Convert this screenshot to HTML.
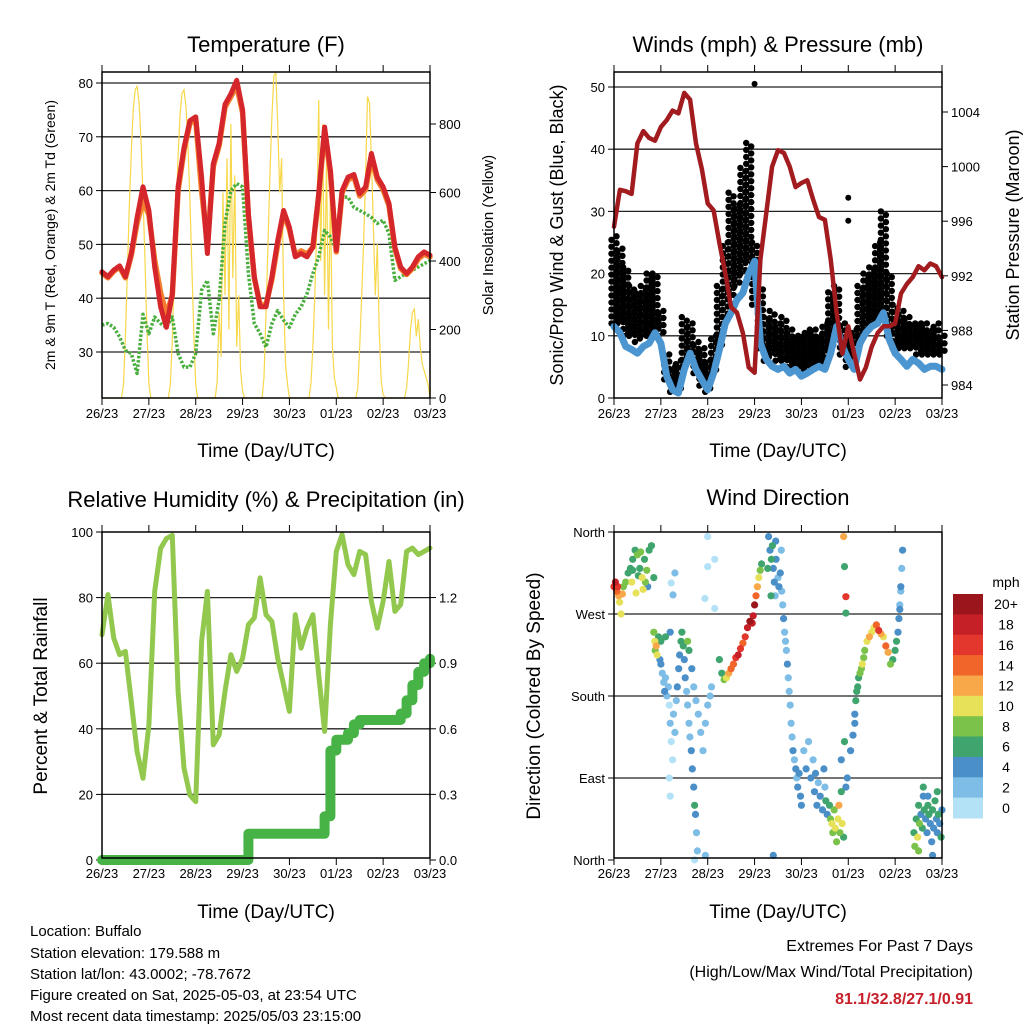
<!DOCTYPE html>
<html><head><meta charset="utf-8"><style>
html,body{margin:0;padding:0;background:#fff;}
svg{display:block;font-family:"Liberation Sans",Arial,sans-serif;}
</style></head><body>
<svg id="chart" width="1024" height="1024" viewBox="0 0 1024 1024">
<rect x="0" y="0" width="1024" height="1024" fill="#fff"/>
<text x="266" y="52" font-size="22" text-anchor="middle">Temperature (F)</text>
<text x="778" y="52" font-size="22" text-anchor="middle">Winds (mph) &amp; Pressure (mb)</text>
<text x="266" y="507" font-size="22" text-anchor="middle">Relative Humidity (%) &amp; Precipitation (in)</text>
<text x="778" y="505" font-size="22" text-anchor="middle">Wind Direction</text>
<text x="266" y="457" font-size="19" text-anchor="middle">Time (Day/UTC)</text>
<text x="778" y="457" font-size="19" text-anchor="middle">Time (Day/UTC)</text>
<text x="266" y="918" font-size="19" text-anchor="middle">Time (Day/UTC)</text>
<text x="778" y="918" font-size="19" text-anchor="middle">Time (Day/UTC)</text>
<text transform="translate(55,235) rotate(-90)" font-size="14" text-anchor="middle">2m &amp; 9m T (Red, Orange) &amp; 2m Td (Green)</text>
<text transform="translate(493,235) rotate(-90)" font-size="15" text-anchor="middle">Solar Insolation (Yellow)</text>
<text transform="translate(563,235) rotate(-90)" font-size="18" text-anchor="middle">Sonic/Prop Wind &amp; Gust (Blue, Black)</text>
<text transform="translate(1019,235) rotate(-90)" font-size="18" text-anchor="middle">Station Pressure (Maroon)</text>
<text transform="translate(47,696) rotate(-90)" font-size="19" text-anchor="middle">Percent &amp; Total Rainfall</text>
<text transform="translate(540,696) rotate(-90)" font-size="19" text-anchor="middle">Direction (Colored By Speed)</text>
<g font-size="15">
<text x="30" y="936">Location: Buffalo</text>
<text x="30" y="958">Station elevation: 179.588 m</text>
<text x="30" y="979">Station lat/lon: 43.0002; -78.7672</text>
<text x="30" y="1000">Figure created on Sat, 2025-05-03, at 23:54 UTC</text>
<text x="30" y="1021">Most recent data timestamp: 2025/05/03 23:15:00</text>
</g>
<text x="973" y="951" font-size="16" text-anchor="end">Extremes For Past 7 Days</text>
<text x="973" y="977" font-size="16" text-anchor="end">(High/Low/Max Wind/Total Precipitation)</text>
<text x="973" y="1004" font-size="16" font-weight="bold" fill="#c8202a" text-anchor="end">81.1/32.8/27.1/0.91</text>
<text x="1006" y="587" font-size="14" text-anchor="middle">mph</text>
</svg>
<script>
// ---- time axis ----
const dayLabels=["26/23","27/23","28/23","29/23","30/23","01/23","02/23","03/23"];
// ---- temperature panel (3-hourly) ----
const tempRed=[44.9,44,45.2,46,44,48.3,55,60.7,56.3,45.8,38.4,34.6,40.8,60.7,68,73,73.7,62.5,48.3,65,68.8,76,78,80.5,75,55.7,44,38.4,38.4,44,50.7,56.3,53.2,47.7,48.3,47.7,49.5,59.4,71.8,63.8,48.9,60,62.5,63,59.4,60.7,66.9,62.5,60.7,57.6,49.5,45.8,44.6,45.8,47.7,48.6,48];
const tempOrange=[44.7,43.8,45,45.8,43.8,48,54,58,55.5,47,41,37,40.5,60,67.5,72.5,73.2,60,50,64.5,68.3,75.5,77.5,79.5,74.5,55.2,43.8,38.8,38.8,43.5,50,55.8,52.8,48,48.8,48.2,49.5,59,71,63.3,48.6,59.6,62,62.6,59,60.2,66.2,62,60.2,57.2,49.2,45.5,44.4,45.5,47.3,48.2,47.7];
const dewGreen=[35,35.3,34.6,32.8,30.3,29.7,26,37,33.4,36.5,35.3,34.6,36.5,29.7,27.2,27.2,29.7,41.5,43.3,33.4,39.6,53.9,60,61.3,60.7,44.6,35.3,33.4,30.9,35.3,37.7,35.9,34.6,37,38.4,40.8,44.6,47.7,52.6,51.4,48.9,58.8,58.8,56.9,56.3,55.7,55,53.9,54.5,52,43.3,44,44.6,45.2,45.8,46.4,47];
const tempTicks=[30,40,50,60,70,80];
const solarTicks=[0,200,400,600,800];
const solarD0=[0,0,0,0,0,0,0,0,0,0,0,40,180,370,560,720,840,900,910,860,750,590,400,200];
const solarD1=[40,0,0,0,0,0,0,0,0,0,0,40,170,360,550,710,830,890,900,850,740,580,390,190];
const solarD2=[40,0,0,0,0,0,0,0,0,0,0,50,250,120,600,300,700,200,800,350,650,150,300,80];
const solarD3=[20,0,0,0,0,0,0,0,0,0,0,60,250,450,650,820,940,950,800,600,700,300,100,40];
const solarD4=[0,0,0,0,0,0,0,0,0,0,0,40,150,300,500,870,400,800,300,700,200,600,150,60];
const solarD5=[30,0,0,0,0,0,0,0,0,0,0,30,150,300,450,650,880,860,700,500,300,450,200,50];
const solarD6=[10,0,0,0,0,0,0,0,0,0,0,0,30,100,200,250,260,180,230,150,100,80,60,40];
// ---- winds panel (3-hourly) ----
const windSpeed=[11.5,10.5,8.3,7.8,7.2,8.3,8.8,10.5,8.8,3.5,1.3,0.8,4.6,7.2,4.6,2.9,1.3,4,7.8,12,13.7,15.8,16.9,20,22,8.8,6.2,5.1,4.6,5.1,4,4.6,3.5,4,4.6,5.1,4.6,7.2,11.5,8.3,6.2,4.6,8.8,10.5,11.5,12,13.7,9.4,7.2,6.2,5.1,6.2,5.6,4.6,5.1,5.1,4.6];
const gustHi=[26,24,21,18,17,18,20,20,14,7,5,6,13,12,9,8,6,10,18,25,33,31,37,41,25,18,13,14,12,13,11,10,10,11,11,10,12,17,18,12,10,11,18,20,21,25,30,20,15,14,13,12,12,12,11,12,10];
const gustLo=[12,12,10,10,9,10,10,11,10,3,1,1,5,7,4,2,1,4,8,13,16,18,20,22,15,8,6,7,6,6,5,5,4,5,5,5,6,8,10,7,5,6,9,11,12,13,14,10,8,8,8,8,7,7,7,7,7];
const gustOutDay=[3.0,5.0,5.0];
const gustOutVal=[50.5,32.2,28.5];
const pressure=[995.6,998.3,998.2,998,1001.7,1002.6,1002.1,1001.9,1002.9,1003.4,1004.1,1003.9,1005.4,1004.9,1001.7,999.8,997.3,996.8,994.4,992.2,989.7,989.3,987.8,985.3,984.9,993.2,996.6,1000,1001.2,1001,1000,998.5,998.8,999,997.6,996.3,996.1,993.2,989.3,986.3,988.3,986.3,984.4,985.3,986.8,987.8,988.3,988.3,988.5,990.7,991.4,991.9,992.7,992.4,992.9,992.7,991.9];
const windTicks=[0,10,20,30,40,50];
const pressTicks=[984,988,992,996,1000,1004];
// ---- humidity panel (3-hourly) ----
const relHum=[68.7,80.9,67.7,62.6,63.6,48.3,33,24.9,41.2,81.9,95,98,99,51.4,28,19.8,17.8,66.6,81.9,35.1,38.1,51.4,62.6,57.5,61.5,71.7,73.8,86,74.8,72.7,61.5,53.4,45.3,74.8,64.6,70.7,74.8,56.5,39.2,71.7,94.1,99.2,90,87,94.1,93.1,78.8,70.7,78.8,91,75.8,77.9,94.1,95.1,93.1,94.1,95.1];
const precip=[0,0,0,0,0,0,0,0,0,0,0,0,0,0,0,0,0,0,0,0,0,0,0,0,0,0.12,0.12,0.12,0.12,0.12,0.12,0.12,0.12,0.12,0.12,0.12,0.12,0.12,0.2,0.5,0.55,0.55,0.58,0.62,0.64,0.64,0.64,0.64,0.64,0.64,0.64,0.67,0.73,0.8,0.86,0.9,0.92];
const rhTicks=[0,20,40,60,80,100];
const precipTicks=["0.0","0.3","0.6","0.9","1.2"];
// ---- wind direction panel ----
const dirLabels=["North","East","South","West","North"];
const speedBins=["0","2","4","6","8","10","12","14","16","18","20+"];
const speedColors=["#b3e2f7","#7ebde6","#4a8fc7","#3fa46d","#7bc24a","#e7e15a","#f8a848","#f1652a","#e3362c","#c51f27","#9b161c"];
const wdDayA=[0.0,0.03,0.06,0.08,0.1,0.12,0.15,0.18,0.2,0.25,0.3,0.35,0.4,0.45,0.5,0.55,0.6,0.65,0.7,0.75,0.8,0.85,0.38,0.47,0.62,0.72,0.4,0.52,0.57,0.67,2.0,2.15,2.0,1.94,2.15,1.3,1.22,1.26];
const wdDirA=[300,305,295,300,290,283,270,292,300,305,315,320,330,340,335,320,310,330,318,340,345,310,305,293,297,300,318,312,338,305,355,330,322,287,276,315,304,291];
const wdSpdA=[16,18,14,17,13,10,10,12,8,8,7,7,7,7,8,7,10,6,8,6,6,7,10,10,10,5,6,6,8,9,1,1,1,0,1,2,1,2];
const wdDayB=[0.85,0.87,0.88,0.9,0.92,0.95,0.98,1.0,1.03,1.06,1.08,1.1,1.13,1.16,1.18,1.2,1.22,1.25,1.27,1.3,1.33,1.35,1.38,1.4,1.43,1.45,1.48,1.5,1.52,1.55,1.57,1.6,1.62,1.65,1.67,1.7,1.72,1.74,1.76,1.78,1.66,1.7,1.75,1.8,1.85,1.9,1.95,2.0,2.05,2.08,1.2,1.1,1.0,1.57,1.6,1.18,1.2,1.72,1.95];
const wdDirB=[250,240,230,235,225,245,220,215,205,195,185,200,180,190,170,150,130,110,160,140,175,190,210,225,240,250,235,220,200,185,170,150,135,120,100,80,60,50,30,10,210,190,175,160,140,120,150,170,180,190,250,245,240,240,230,90,70,0,5];
const wdSpdB=[8,10,9,12,10,6,5,4,3,3,4,2,2,3,1,2,1,1,2,2,3,4,5,4,6,7,6,5,4,3,2,3,2,4,4,5,6,4,3,2,4,3,2,2,2,3,2,2,3,2,5,7,6,8,7,1,0,1,2];
const wdDayC=[2.25,2.3,2.35,2.4,2.45,2.5,2.55,2.6,2.65,2.7,2.75,2.8,2.85,2.9,2.95,2.97,3.0,3.03,3.06,3.09,3.12,3.15];
const wdDirC=[220,205,198,200,205,210,215,222,225,232,238,245,255,262,260,268,280,290,300,310,318,325];
const wdSpdC=[6,7,8,10,12,14,14,16,18,16,14,16,18,20,19,18,20,14,12,10,8,7];
const wdDayD=[3.3,3.33,3.36,3.38,3.4,3.42,3.44,3.46,3.5,3.52,3.55,3.58,3.6,3.62,3.64,3.66,3.68,3.7,3.72,3.74,3.76,3.78,3.8,3.82,3.85,3.88,3.9,3.92,3.95,3.98,4.0,3.35,3.28,3.45,3.57,4.05,4.1,4.15,4.2,4.25,4.28,4.3,4.33,4.36,4.4,4.45,4.48,4.5,4.52,4.55,3.4];
const wdDirD=[355,340,330,345,320,305,290,330,310,300,315,295,280,265,250,240,230,215,200,185,170,150,135,120,110,100,90,80,95,70,60,290,320,350,340,120,100,130,90,110,75,95,60,85,70,55,100,80,65,50,5];
const wdSpdD=[5,4,6,7,5,4,3,4,3,5,4,3,3,4,3,2,3,4,3,2,3,2,3,4,3,4,3,5,4,5,4,6,7,5,3,3,4,3,4,3,4,5,4,3,4,5,4,3,6,5,5];
const wdDayE=[4.6,4.62,4.65,4.67,4.7,4.72,4.75,4.78,4.8,4.82,4.85,4.87,4.9,4.92,4.95,4.98,4.9,4.92,4.95,4.95];
const wdDirE=[60,45,40,30,55,35,20,45,60,30,75,40,25,130,80,90,355,322,289,271];
const wdSpdE=[7,8,10,8,9,11,8,10,12,9,6,10,7,6,5,4,12,7,17,7];
const wdDayF=[5.05,5.1,5.14,5.16,5.18,5.2,5.22,5.25,5.28,5.3,5.33,5.35,5.4,5.45,5.5,5.55,5.6,5.65,5.7,5.75,5.8,5.85,5.9,5.95,6.0,6.03,6.06,6.08,6.1,6.12,6.14,6.16,6.1,6.12,5.14,4.85];
const wdDirF=[120,137,160,175,185,190,200,205,210,215,222,230,240,245,250,255,258,252,248,245,235,228,215,220,230,240,250,265,280,300,320,340,275,295,150,110];
const wdSpdF=[4,4,4,6,7,6,7,8,9,10,8,9,10,12,11,10,14,16,13,10,14,12,8,7,6,7,4,4,3,4,3,4,4,3,4,4];
const wdDayG=[6.4,6.42,6.45,6.48,6.5,6.52,6.55,6.58,6.6,6.62,6.65,6.68,6.7,6.72,6.75,6.78,6.8,6.82,6.85,6.88,6.9,6.92,6.95,6.98,7.0,6.5,6.6,6.7,6.8,6.9];
const wdDirG=[30,15,45,25,60,40,50,35,70,55,45,30,60,50,40,20,55,35,65,45,30,50,40,25,55,10,80,70,5,75];
const wdSpdG=[6,8,7,10,6,8,5,7,4,6,5,4,6,7,4,5,6,4,7,5,4,6,5,6,4,8,6,5,4,7];

const NS="http://www.w3.org/2000/svg";
const svg=document.getElementById('chart');
function mk(tag,attrs,parent){const e=document.createElementNS(NS,tag);for(const k in attrs)e.setAttribute(k,attrs[k]);(parent||svg).appendChild(e);return e;}
function txt(s,attrs,parent){const e=mk('text',attrs,parent);e.textContent=s;return e;}

const LX=102, RX=614, PW=328, DAYS=7;
const xL=d=>LX+d*PW/DAYS;
const xR=d=>RX+d*PW/DAYS;
const yTemp=t=>352-(t-30)*5.38;
const ySolar=s=>398-s*0.3425;
const yWind=v=>398-v*6.22;
const yPress=p=>385-(p-984)*13.65;
const yRH=r=>860-r*3.28;
const yPrecip=p=>860-p*218.7;
const yDir=d=>860-d/360*328;
const stepT=i=>i*0.125;

function panelFrame(x0,y0,name){
  const g=mk('g',{});
  
  
  for(let i=0;i<=7;i++){
    const x=x0+i*PW/7;
    const t1=mk('line',{x1:x,x2:x,y1:y0,y2:y0-7,stroke:'#000','stroke-width':1},g);
    
    
    const t2=mk('line',{x1:x,x2:x,y1:y0+326,y2:y0+333,stroke:'#000','stroke-width':1},g);
    
    
    const l=txt(dayLabels[i],{x:x,y:y0+346,'font-size':13,'text-anchor':'middle'},g);
    
    
  }
  return g;
}
function hline(x0,y,name,parent){
  const l=mk('line',{x1:x0,x2:x0+PW,y1:y,y2:y,stroke:'#222','stroke-width':1.3},parent);
  
  
}
function boxRect(x0,y0,name){
  const r=mk('rect',{x:x0,y:y0,width:PW,height:326,fill:'none',stroke:'#000','stroke-width':1.5});
  
  
}
function yTickL(x0,y,label,name,fs){
  const t=mk('line',{x1:x0,x2:x0-6,y1:y,y2:y,stroke:'#000'});
  
  
  if(label!==null){const l=txt(label,{x:x0-9,y:y+5,'font-size':fs||13,'text-anchor':'end'});
  
  }
}
function yTickR(x1,y,label,name,fs){
  const t=mk('line',{x1:x1,x2:x1+6,y1:y,y2:y,stroke:'#000'});
  
  
  const l=txt(label,{x:x1+9,y:y+5,'font-size':fs||13});
  
  
}
function poly(vals,xf,yf,stroke,w,name,extra){
  const pts=vals.map((v,i)=>xf(stepT(i)).toFixed(1)+','+yf(v).toFixed(1)).join(' ');
  const p=mk('polyline',Object.assign({points:pts,fill:'none',stroke:stroke,'stroke-width':w,'stroke-linejoin':'round','stroke-linecap':'round'},extra||{}));
  
  
  return p;
}

// ===== Panel 1: Temperature =====
panelFrame(LX,72,'temperature');
tempTicks.forEach(t=>{hline(LX,yTemp(t),'temp-gridline');yTickL(LX,yTemp(t),String(t),'temp-y');});
solarTicks.forEach(s=>yTickR(LX+PW,ySolar(s),String(s),'solar-y'));
const solarAll=solarD0.concat(solarD1,solarD2,solarD3,solarD4,solarD5,solarD6,[0]);
{
  const pts=solarAll.map((s,h)=>xL(h/24).toFixed(1)+','+ySolar(s).toFixed(1)).join(' ');
  const p=mk('polyline',{points:pts,fill:'none',stroke:'#f7d84a','stroke-width':1.2});
  
  
}
poly(dewGreen,xL,yTemp,'#4aae3f',3.5,'dewpoint-line',{'stroke-dasharray':'2.5 1.8','stroke-linecap':'butt'});
poly(tempOrange,xL,yTemp,'#f47e2e',5.5,'temp-9m-line');
poly(tempRed,xL,yTemp,'#d5262b',5,'temp-2m-line');
boxRect(LX,72,'temperature-plot-area');

// ===== Panel 2: Winds =====
panelFrame(RX,72,'winds');
windTicks.forEach(v=>{if(v>0)hline(RX,yWind(v),'wind-gridline');yTickL(RX,yWind(v),String(v),'wind-y');});
pressTicks.forEach(p=>yTickR(RX+PW,yPress(p),String(p),'pressure-y'));
{
  const g=mk('g',{fill:'#000'});
  
  
  gustHi.forEach((hi,i)=>{
    const x=xR(stepT(i));
    const lo=gustLo[i];
    const n=Math.max(1,Math.round((yWind(lo)-yWind(hi))/3.5));
    for(let j=0;j<=n;j++){
      const v=lo+(hi-lo)*j/n;
      const c=mk('circle',{cx:(x+(j%2?2.5:-2.5)).toFixed(1),cy:yWind(v).toFixed(1),r:3.2},g);
      
      
    }
  });
  gustOutDay.forEach((d,i)=>{
    const c=mk('circle',{cx:xR(d),cy:yWind(gustOutVal[i]),r:3},g);
    
    
  });
}
poly(windSpeed,xR,yWind,'#4b95d1',7,'wind-speed-line');
poly(pressure,xR,yPress,'#a11b1f',4.5,'pressure-line');
boxRect(RX,72,'winds-plot-area');

// ===== Panel 3: RH & precip =====
panelFrame(LX,532,'humidity');
rhTicks.forEach(r=>{if(r>0&&r<100)hline(LX,yRH(r),'rh-gridline');yTickL(LX,yRH(r),String(r),'rh-y');});
precipTicks.forEach(p=>yTickR(LX+PW,yPrecip(parseFloat(p)),p,'precip-y'));
poly(relHum,xL,yRH,'#92c84e',5,'relative-humidity-line');
{
  let pts=[];
  precip.forEach((p,i)=>{
    const x=xL(stepT(i));
    if(i>0)pts.push(x.toFixed(1)+','+yPrecip(precip[i-1]).toFixed(1));
    pts.push(x.toFixed(1)+','+yPrecip(p).toFixed(1));
  });
  const p=mk('polyline',{points:pts.join(' '),fill:'none',stroke:'#47b346','stroke-width':10,'stroke-linecap':'round','stroke-linejoin':'round'});
  
  
}
boxRect(LX,532,'humidity-plot-area');

// ===== Panel 4: Wind direction =====
panelFrame(RX,532,'wind-direction');
dirLabels.forEach((lab,i)=>{
  const y=yDir(i*90);
  if(i>0&&i<4)hline(RX,y,'direction-gridline');
  yTickL(RX,y,lab,'direction-y',13);
});
{
  const g=mk('g',{});
  
  
  const days=wdDayA.concat(wdDayB,wdDayC,wdDayD,wdDayE,wdDayF,wdDayG);
  const dirs=wdDirA.concat(wdDirB,wdDirC,wdDirD,wdDirE,wdDirF,wdDirG);
  const spds=wdSpdA.concat(wdSpdB,wdSpdC,wdSpdD,wdSpdE,wdSpdF,wdSpdG);
  const order=days.map((d,i)=>i).sort((a,b)=>spds[a]-spds[b]);
  order.forEach(i=>{
    const bin=Math.min(10,Math.floor(spds[i]/2));
    const c=mk('circle',{cx:xR(days[i]).toFixed(1),cy:yDir(dirs[i]).toFixed(1),r:3.6,fill:speedColors[bin]},g);
    
    
  });
}
boxRect(RX,532,'wind-direction-plot-area');
{
  const g=mk('g',{});
  
  
  const top=594,bh=224/11;
  for(let k=0;k<11;k++){
    const idx=10-k;
    const r=mk('rect',{x:953,y:(top+k*bh).toFixed(1),width:30,height:(bh+0.5).toFixed(1),fill:speedColors[idx]},g);
    
    
    const t=txt(speedBins[idx],{x:1006,y:(top+k*bh+bh/2+5).toFixed(1),'font-size':14,'text-anchor':'middle'},g);
    
    
  }
}
</script>
</body></html>
